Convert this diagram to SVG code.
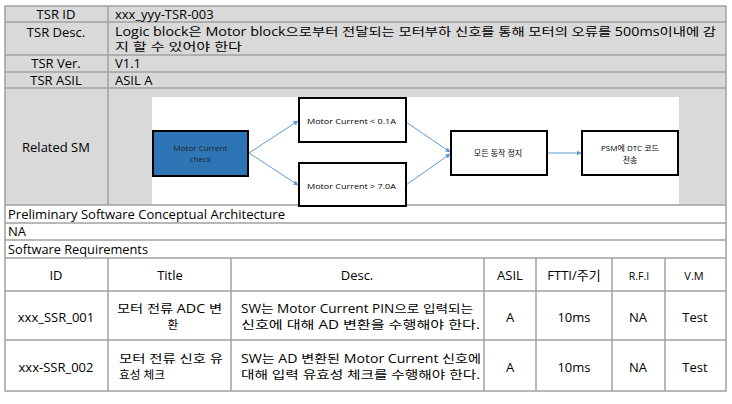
<svg xmlns="http://www.w3.org/2000/svg" width="732" height="404" viewBox="0 0 732 404">
<style>
.t{font-family:"Open Sans","Noto Sans CJK KR",sans-serif;font-size:13px;fill:#000}
.m{font-size:11.7px}
.c{text-anchor:middle}
.s{font-family:"Open Sans","Noto Sans CJK KR",sans-serif;font-size:8px;fill:#000;text-anchor:middle}
.g{stroke:#a0a0a0;stroke-width:1.5;fill:none}
.box{fill:#fff;stroke:#000;stroke-width:2}
.con{stroke:#5b9bd5;stroke-width:1;fill:none;marker-end:url(#ah)}
</style>
<defs>
<marker id="ah" viewBox="0 0 10 10" refX="9" refY="5" markerWidth="5" markerHeight="5" orient="auto" markerUnits="userSpaceOnUse">
<path d="M0,0 L10,5 L0,10 z" fill="#5b9bd5"/>
</marker>
</defs>
<rect width="732" height="404" fill="#fff"/>
<g id="table">
<rect x="5" y="6" width="721" height="199" fill="#d9d9d9"/>
<rect x="152" y="97" width="527" height="107" fill="#fff"/>
<g class="g">
<rect x="5" y="6" width="721" height="385"/>
<line x1="5" y1="22" x2="726" y2="22"/>
<line x1="5" y1="55" x2="726" y2="55"/>
<line x1="5" y1="72" x2="726" y2="72"/>
<line x1="5" y1="88" x2="726" y2="88"/>
<line x1="5" y1="205" x2="726" y2="205"/>
<line x1="5" y1="223" x2="726" y2="223"/>
<line x1="5" y1="240" x2="726" y2="240"/>
<line x1="5" y1="258" x2="726" y2="258"/>
<line x1="5" y1="291" x2="726" y2="291"/>
<line x1="5" y1="340" x2="726" y2="340"/>
<line x1="108" y1="6" x2="108" y2="205"/>
<line x1="108" y1="258" x2="108" y2="391"/>
<line x1="231" y1="258" x2="231" y2="391"/>
<line x1="484" y1="258" x2="484" y2="391"/>
<line x1="536" y1="258" x2="536" y2="391"/>
<line x1="612" y1="258" x2="612" y2="391"/>
<line x1="665" y1="258" x2="665" y2="391"/>
</g>
<text class="t c" x="56" y="18.5">TSR ID</text>
<text class="t" x="115" y="18.5">xxx_yyy-TSR-003</text>
<text class="t c" x="56" y="36.5">TSR Desc.</text>
<text class="t m" x="115" y="35.5" textLength="601" lengthAdjust="spacingAndGlyphs">Logic block은 Motor block으로부터 전달되는 모터부하 신호를 통해 모터의 오류를 500ms이내에 감</text>
<text class="t m" x="115" y="51" textLength="127" lengthAdjust="spacingAndGlyphs">지 할 수 있어야 한다</text>
<text class="t c" x="56" y="68">TSR Ver.</text>
<text class="t" x="115" y="68">V1.1</text>
<text class="t c" x="56" y="85">TSR ASIL</text>
<text class="t" x="115" y="85">ASIL A</text>
<text class="t c" x="56" y="152">Related SM</text>
<text class="t" x="8" y="219" textLength="277" lengthAdjust="spacingAndGlyphs">Preliminary Software Conceptual Architecture</text>
<text class="t" x="8" y="236">NA</text>
<text class="t" x="8" y="254" textLength="140" lengthAdjust="spacingAndGlyphs">Software Requirements</text>
<text class="t c" x="56" y="279.5">ID</text>
<text class="t c" x="170" y="279.5">Title</text>
<text class="t c" x="357" y="279.5">Desc.</text>
<text class="t c" x="510" y="279.5">ASIL</text>
<text class="t c" x="574" y="279.5">FTTI/주기</text>
<text class="t c" x="639" y="279.5" style="font-size:10.5px">R.F.I</text>
<text class="t c" x="694" y="279.5" style="font-size:11px">V.M</text>
<text class="t c" x="56" y="321.5">xxx_SSR_001</text>
<text class="t m" x="117" y="312.5" textLength="105" lengthAdjust="spacingAndGlyphs">모터 전류 ADC 변</text>
<text class="t m c" x="173" y="328.5">환</text>
<text class="t m" x="241" y="312.5" textLength="232" lengthAdjust="spacingAndGlyphs">SW는 Motor Current PIN으로 입력되는</text>
<text class="t m" x="241" y="328.5" textLength="239" lengthAdjust="spacingAndGlyphs">신호에 대해 AD 변환을 수행해야  한다.</text>
<text class="t c" x="510" y="321.5">A</text>
<text class="t c" x="574" y="321.5">10ms</text>
<text class="t c" x="638" y="321.5">NA</text>
<text class="t c" x="695" y="321.5">Test</text>
<text class="t c" x="56" y="371.5">xxx-SSR_002</text>
<text class="t m" x="119" y="362.5" textLength="104" lengthAdjust="spacingAndGlyphs">모터 전류 신호 유</text>
<text class="t m" x="119" y="378.5">효성 체크</text>
<text class="t m" x="241" y="362.5" textLength="240" lengthAdjust="spacingAndGlyphs">SW는 AD 변환된 Motor Current 신호에</text>
<text class="t m" x="241" y="378.5" textLength="239" lengthAdjust="spacingAndGlyphs">대해 입력 유효성 체크를 수행해야 한다.</text>
<text class="t c" x="510" y="371.5">A</text>
<text class="t c" x="574" y="371.5">10ms</text>
<text class="t c" x="638" y="371.5">NA</text>
<text class="t c" x="695" y="371.5">Test</text>
</g>
<g id="connectors">
<line class="con" x1="249" y1="153" x2="298" y2="121"/>
<line class="con" x1="249" y1="153" x2="298" y2="185"/>
<line class="con" x1="406" y1="122" x2="450" y2="152"/>
<line class="con" x1="406" y1="185" x2="450" y2="154"/>
<line class="con" x1="547" y1="153" x2="581" y2="153"/>
</g>
<g id="n-check">
<rect x="153" y="131" width="95" height="45" fill="#2e75b6" stroke="#000" stroke-width="2"/>
<text class="s" x="200.5" y="151" style="fill:#222">Motor Current</text>
<text class="s" x="200.5" y="162" style="fill:#222">check</text>
</g>
<g id="n-low">
<rect class="box" x="299" y="98" width="107" height="44"/>
<text class="s" x="351.5" y="123.5" textLength="89" lengthAdjust="spacingAndGlyphs">Motor Current &lt; 0.1A</text>
</g>
<g id="n-high">
<rect class="box" x="299" y="163" width="107" height="43"/>
<text class="s" x="351.5" y="188.5" textLength="89" lengthAdjust="spacingAndGlyphs">Motor Current &gt; 7.0A</text>
</g>
<g id="n-stop">
<rect class="box" x="451" y="131" width="96" height="44"/>
<text class="s" x="498" y="156">모든 동작 정지</text>
</g>
<g id="n-psm">
<rect class="box" x="582" y="131" width="96" height="44"/>
<text class="s" x="630" y="150.5">PSM에 DTC 코드</text>
<text class="s" x="630" y="162.5">전송</text>
</g>
</svg>
